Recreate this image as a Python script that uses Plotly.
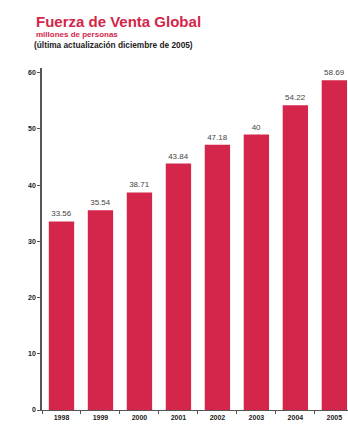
import plotly.graph_objects as go

categories = ["1998", "1999", "2000", "2001", "2002", "2003", "2004", "2005"]
values = [33.56, 35.54, 38.71, 43.84, 47.18, 49.0, 54.22, 58.69]
value_labels = ["33.56", "35.54", "38.71", "43.84", "47.18", "40", "54.22", "58.69"]
y_ticks = [0, 10, 20, 30, 40, 50, 60]

RED = "#d3264a"
PLOT_W = 306
PLOT_H = 342

fig = go.Figure(go.Bar(
    x=categories, y=values,
    text=value_labels, textposition="outside", cliponaxis=False,
    textfont=dict(family="Liberation Sans", size=8, color="#444"),
    marker=dict(color=RED, line=dict(width=0)),
))

fig.update_layout(
    width=348, height=432,
    margin=dict(l=42, r=0, t=68, b=22),
    plot_bgcolor="white", paper_bgcolor="white",
    showlegend=False, bargap=0.35,
)

def head(text, dy, size, color, x_px=-8):
    fig.add_annotation(text=f"<b>{text}</b>", xref="paper", yref="paper",
                       x=x_px / PLOT_W, y=1 + dy / PLOT_H, xanchor="left", yanchor="middle",
                       showarrow=False,
                       font=dict(family="Liberation Sans", size=size, color=color))

head("Fuerza de Venta Global", 46, 15, RED)
head("millones de personas", 33, 8, RED)
head("(última actualización diciembre de 2005)", 23, 8.3, "#222", x_px=-10)

fig.update_xaxes(
    type="category", range=[-0.5, 7.35], automargin=False,
    tickvals=categories, ticktext=[f"<b>{c}</b>" for c in categories],
    showline=True, linecolor="#555", linewidth=1.2,
    ticks="outside", tickson="boundaries", ticklen=3, tickcolor="#555",
    tickfont=dict(family="Liberation Sans", size=7, color="#222"),
    showgrid=False,
)
fig.update_yaxes(
    range=[0, 60.85], automargin=False,
    tickvals=y_ticks, ticktext=[f"<b>{v}</b>" for v in y_ticks],
    showline=True, linecolor="#555", linewidth=1.5,
    ticks="outside", ticklen=3, tickcolor="#555",
    tickfont=dict(family="Liberation Sans", size=7, color="#222"),
    showgrid=False, zeroline=False,
)

fig.write_html("out.html", config={"displayModeBar": False},
               post_script="document.body.style.margin='0';document.body.style.overflow='hidden';")
